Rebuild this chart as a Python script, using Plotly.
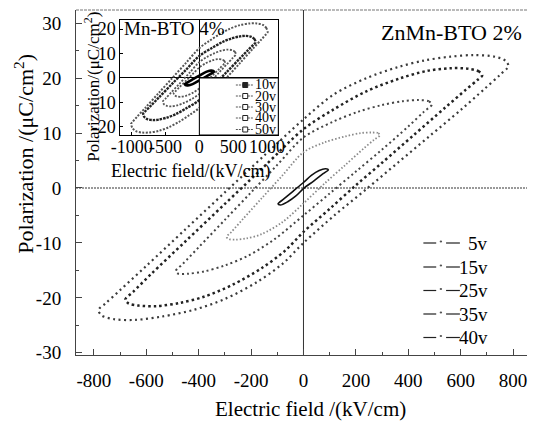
import plotly.graph_objects as go

# ---------------- main chart data (ZnMn-BTO 2%) : E (kV/cm), P (uC/cm2) ----------------
E_40v = [782, 770, 730, 650, 560, 460, 360, 240, 115, 0, -150, -300, -450, -600, -700, -755, -782,
         -770, -720, -640, -540, -420, -300, -180, -80, 0, 120, 240, 360, 480, 600, 690, 750, 782]
P_40v = [22.2, 23.2, 23.9, 24.2, 23.9, 23.2, 22.0, 20.0, 17.0, 12.5, 5.9, -0.8, -7.5, -14.2, -18.6, -21.0, -22.2,
         -23.2, -23.9, -24.0, -23.4, -22.2, -20.2, -17.2, -13.8, -10.0, -4.9, -0.2, 4.6, 9.4, 14.2, 18.0, 20.6, 22.2]

E_35v = [682, 670, 630, 560, 470, 365, 240, 115, 0, -150, -300, -450, -580, -650, -680,
         -668, -630, -560, -470, -380, -270, -160, -70, 0, 100, 200, 300, 420, 540, 620, 665, 682]
P_35v = [20.5, 21.2, 21.7, 21.8, 21.3, 19.9, 17.6, 14.3, 10.7, 3.9, -2.9, -9.7, -15.6, -18.9, -20.3,
         -21.0, -21.4, -21.5, -20.9, -19.8, -17.6, -14.6, -11.4, -8.0, -3.8, 0.5, 4.6, 9.6, 14.6, 17.9, 19.7, 20.5]

E_25v = [490, 478, 440, 380, 300, 210, 110, 0, -100, -200, -300, -400, -460, -487,
         -478, -440, -380, -300, -210, -110, 0, 100, 200, 300, 400, 460, 490]
P_25v = [15.2, 15.8, 16.0, 15.8, 15.1, 13.9, 12.0, 9.2, 4.2, -0.8, -5.8, -10.8, -13.8, -15.1,
         -15.6, -15.6, -15.2, -14.1, -12.3, -9.3, -5.0, -1.0, 3.0, 7.0, 11.2, 13.9, 15.2]

E_15v = [292, 284, 260, 220, 160, 80, 0, -80, -160, -230, -275, -293,
         -285, -260, -220, -160, -80, 0, 80, 160, 230, 270, 292]
P_15v = [9.6, 10.0, 10.1, 10.0, 9.4, 8.3, 6.5, 2.3, -1.9, -5.6, -8.0, -8.9,
         -9.3, -9.4, -9.2, -8.4, -6.2, -2.8, 0.8, 4.2, 7.2, 8.8, 9.6]

E_5v = [95, 85, 60, 30, 0, -40, -75, -97, -88, -60, -30, 0, 40, 75, 95]
P_5v = [3.3, 3.5, 3.2, 2.3, 1.0, -0.6, -2.0, -2.9, -3.1, -2.5, -1.5, -0.1, 1.3, 2.6, 3.3]

main_labels = ["5v", "15v", "25v", "35v", "40v"]

# ---------------- inset data (Mn-BTO 4%) ----------------
E_50i = [1010, 990, 940, 850, 750, 600, 450, 300, 150, 0, -200, -400, -600, -800, -920, -990, -1010,
         -990, -940, -850, -750, -600, -450, -300, -150, 0, 200, 400, 600, 800, 920, 990, 1010]
P_50i = [18.7, 20.4, 21.7, 22.3, 22.3, 21.6, 20.1, 17.9, 15.2, 12.2, 6.1, 0.0, -6.1, -12.2, -15.8, -18.0, -18.7,
         -20.4, -21.7, -22.3, -22.3, -21.6, -20.1, -17.9, -15.2, -12.2, -6.1, 0.0, 6.1, 12.2, 15.8, 18.0, 18.7]

E_40i = [830, 815, 770, 690, 600, 480, 350, 200, 0, -200, -400, -600, -720, -800, -830,
         -815, -770, -690, -600, -480, -350, -200, 0, 200, 400, 600, 720, 800, 830]
P_40i = [14.5, 15.9, 16.8, 17.2, 17.0, 16.2, 14.8, 12.5, 9.0, 3.3, -2.3, -8.0, -11.4, -13.6, -14.5,
         -15.9, -16.8, -17.2, -17.0, -16.2, -14.8, -12.5, -9.0, -3.3, 2.3, 8.0, 11.4, 13.6, 14.5]

E_30i = [540, 525, 490, 420, 330, 230, 120, 0, -150, -300, -420, -500, -540,
         -525, -490, -420, -330, -230, -120, 0, 150, 300, 420, 500, 540]
P_30i = [9.6, 10.7, 11.3, 11.6, 11.2, 10.2, 8.7, 6.5, 2.0, -2.5, -6.0, -8.4, -9.6,
         -10.7, -11.3, -11.6, -11.2, -10.2, -8.7, -6.5, -2.0, 2.5, 6.0, 8.4, 9.6]

E_20i = [380, 368, 340, 280, 200, 100, 0, -100, -200, -300, -360, -380,
         -368, -340, -280, -200, -100, 0, 100, 200, 300, 360, 380]
P_20i = [6.1, 7.0, 7.5, 7.7, 7.3, 6.1, 4.3, 1.6, -1.2, -3.9, -5.6, -6.1,
         -7.0, -7.5, -7.7, -7.3, -6.1, -4.3, -1.6, 1.2, 3.9, 5.6, 6.1]

E_10i = [215, 205, 170, 100, 0, -100, -180, -215, -205, -170, -100, 0, 100, 180, 215]
P_10i = [2.5, 2.9, 3.0, 2.5, 1.0, -0.6, -1.9, -2.5, -2.9, -3.0, -2.5, -1.0, 0.6, 1.9, 2.5]

inset_labels = ["10v", "20v", "30v", "40v", "50v"]

main_ticks_x = [-800, -600, -400, -200, 0, 200, 400, 600, 800]
main_ticks_y = [-30, -20, -10, 0, 10, 20, 30]
inset_ticks_x = [-1000, -500, 0, 500, 1000]
inset_ticks_y = [-20, -10, 0, 10, 20]

FONT = "Liberation Serif"
fig = go.Figure()

def loop(E, P, color, width, dash, xa="x", ya="y"):
    fig.add_trace(go.Scatter(x=E, y=P, mode="lines", xaxis=xa, yaxis=ya,
                             line=dict(color=color, width=width, dash=dash, shape="spline", smoothing=0.9),
                             showlegend=False, hoverinfo="skip"))

# main loops
loop(E_40v, P_40v, "#3a3a3a", 2.2, "2px,3.5px")
loop(E_35v, P_35v, "#222222", 2.5, "2.5px,3px")
loop(E_25v, P_25v, "#444444", 2.0, "2px,3px")
loop(E_15v, P_15v, "#8a8a8a", 1.8, "1.5px,2px")
loop(E_5v, P_5v, "#111111", 1.6, "solid")

# inset loops
loop(E_50i, P_50i, "#555555", 2.0, "2px,1.5px", "x2", "y2")
loop(E_40i, P_40i, "#222222", 2.4, "2.5px,1px", "x2", "y2")
loop(E_30i, P_30i, "#555555", 1.8, "2px,1.5px", "x2", "y2")
loop(E_20i, P_20i, "#555555", 1.8, "2px,1.5px", "x2", "y2")
loop(E_10i, P_10i, "#000000", 2.6, "solid", "x2", "y2")

W0, H0 = 76, 10
PW, PH = 457, 345
def px(x):
    return (x - W0) / PW
def py(y):
    return (H0 + PH - y) / PH

shapes = []
# main zero lines and top border
shapes.append(dict(type="line", xref="x", yref="paper", x0=0, x1=0, y0=0, y1=1,
                   line=dict(color="#333333", width=1), layer="below"))
shapes.append(dict(type="line", xref="paper", yref="y", x0=0, x1=1, y0=0, y1=0,
                   line=dict(color="#999999", width=2, dash="2px,1px"), layer="below"))
shapes.append(dict(type="line", xref="paper", yref="paper", x0=0, x1=1, y0=1, y1=1,
                   line=dict(color="#777777", width=1.2, dash="3px,1px"), layer="above"))
# inset lower-right legend box (white)
shapes.append(dict(type="rect", xref="x2", yref="y2", x0=0, x1=1168, y0=-23.3, y1=0,
                   fillcolor="white", line=dict(color="black", width=1), layer="above"))

annotations = []
# main legend (custom)
leg_y = [243, 267, 290.5, 314, 337.5]
for lab, yy in zip(main_labels, leg_y):
    shapes.append(dict(type="line", xref="paper", yref="paper", x0=px(428), x1=px(441), y0=py(yy), y1=py(yy),
                       line=dict(color="#222222", width=1.2), layer="above"))
    shapes.append(dict(type="line", xref="paper", yref="paper", x0=px(451), x1=px(465), y0=py(yy), y1=py(yy),
                       line=dict(color="#222222", width=1.2), layer="above"))
    shapes.append(dict(type="circle", xref="paper", yref="paper", x0=px(444.5), x1=px(447), y0=py(yy - 2.5), y1=py(yy - 0.5),
                       fillcolor="#555555", line=dict(width=0), layer="above"))
    annotations.append(dict(text=lab, xref="paper", yref="paper", x=px(496), y=py(yy), xanchor="right",
                            yanchor="middle", showarrow=False, font=dict(family=FONT, size=19, color="black")))

# inset legend (custom)
ileg_y = [85, 96, 107, 118, 129.5]
for lab, yy in zip(inset_labels, ileg_y):
    shapes.append(dict(type="line", xref="paper", yref="paper", x0=px(238), x1=px(256), y0=py(yy), y1=py(yy),
                       line=dict(color="#555555", width=1, dash="2px,1px"), layer="above"))
    shapes.append(dict(type="rect", xref="paper", yref="paper", x0=px(245), x1=px(250), y0=py(yy + 2.5), y1=py(yy - 2.5),
                       fillcolor="#222222" if lab == "10v" else "white", line=dict(color="#222222", width=1), layer="above"))
    annotations.append(dict(text=lab, xref="paper", yref="paper", x=px(281), y=py(yy), xanchor="right",
                            yanchor="middle", showarrow=False, font=dict(family=FONT, size=14, color="black")))

# texts
annotations += [
    dict(text="ZnMn-BTO 2%", xref="paper", yref="paper", x=px(456), y=py(32), xanchor="center", yanchor="middle",
         showarrow=False, font=dict(family=FONT, size=22, color="black")),
    dict(text="Mn-BTO 4%", xref="paper", yref="paper", x=px(123), y=py(28), xanchor="left", yanchor="middle",
         showarrow=False, font=dict(family=FONT, size=19, color="black")),
    dict(text="Electric field /(kV/cm)", xref="paper", yref="paper", x=px(314), y=py(409), xanchor="center",
         yanchor="middle", showarrow=False, font=dict(family=FONT, size=21, color="black")),
    dict(text="Polarization /(μC/cm<sup>2</sup>)", xref="paper", yref="paper", x=px(23), y=py(154), textangle=-90,
         xanchor="center", yanchor="middle", showarrow=False, font=dict(family=FONT, size=22, color="black")),
    dict(text="Electric field/(kV/cm)", xref="paper", yref="paper", x=px(192), y=py(172), xanchor="center",
         yanchor="middle", showarrow=False, font=dict(family=FONT, size=18, color="black")),
    dict(text="Polarization/(μC/cm<sup>2</sup>)", xref="paper", yref="paper", x=px(92), y=py(87), textangle=-90,
         xanchor="center", yanchor="middle", showarrow=False, font=dict(family=FONT, size=17, color="black")),
]

TF = dict(family=FONT, size=19, color="black")
TFi = dict(family=FONT, size=18, color="black")
fig.update_layout(
    width=534, height=423, margin=dict(l=W0, r=534 - W0 - PW, t=H0, b=423 - H0 - PH),
    paper_bgcolor="white", plot_bgcolor="white",
    font=dict(family=FONT, color="black", size=19),
    showlegend=False,
    xaxis=dict(domain=[0, 1], range=[-868, 853], tickvals=main_ticks_x, ticktext=[str(v) for v in main_ticks_x],
               ticks="inside", ticklen=6, tickangle=0,
               tickcolor="#444444", showline=True, linecolor="#444444", linewidth=1, mirror=False,
               zeroline=False, showgrid=False, tickfont=TF, ticklabelstandoff=8,
               minor=dict(ticks="inside", ticklen=3, tickcolor="#444444", dtick=100, tick0=0, showgrid=False)),
    yaxis=dict(domain=[0, 1], range=[-30.4, 32.4], tickvals=main_ticks_y, ticktext=[str(v) for v in main_ticks_y],
               ticks="inside", ticklen=6,
               tickcolor="#444444", showline=True, linecolor="#444444", linewidth=1, mirror=False,
               zeroline=False, showgrid=False, tickfont=TF, ticklabelstandoff=10,
               minor=dict(ticks="inside", ticklen=3, tickcolor="#444444", dtick=5, tick0=0, showgrid=False)),
    xaxis2=dict(domain=[px(121), px(281)], anchor="y2", range=[-1168, 1168], tickvals=inset_ticks_x,
                ticktext=[str(v) for v in inset_ticks_x], tickangle=0,
                ticks="inside", ticklen=3, tickcolor="black", showline=True, linecolor="black", linewidth=1,
                mirror=True, zeroline=True, zerolinecolor="black", zerolinewidth=1, showgrid=False,
                tickfont=TFi, ticklabelstandoff=-5),
    yaxis2=dict(domain=[py(135), py(20)], anchor="x2", range=[-23.3, 23.7], tickvals=inset_ticks_y,
                ticktext=[str(v) for v in inset_ticks_y],
                ticks="inside", ticklen=3, tickcolor="black", showline=True, linecolor="black", linewidth=1,
                mirror=True, zeroline=True, zerolinecolor="black", zerolinewidth=1, showgrid=False,
                tickfont=TFi, ticklabelstandoff=0),
    shapes=shapes, annotations=annotations,
)

fig.write_html("out.html")
